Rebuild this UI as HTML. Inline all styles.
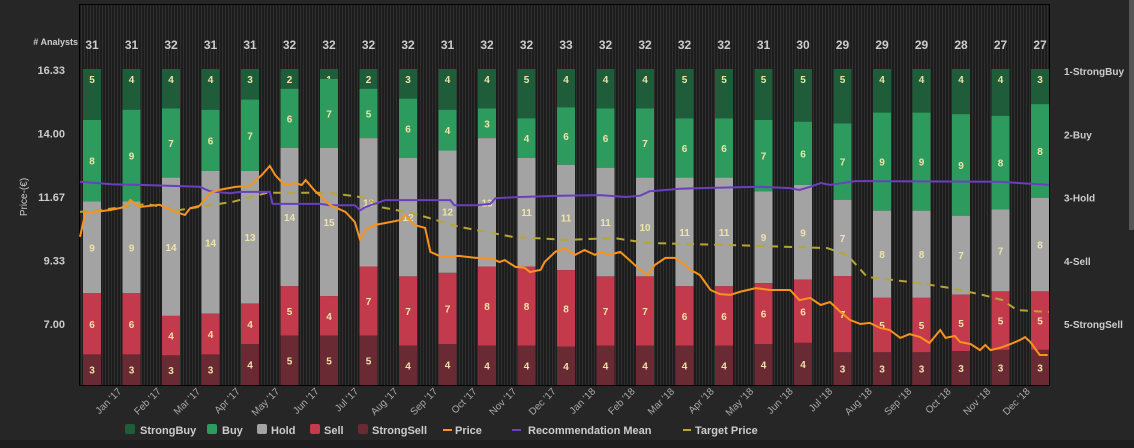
<!DOCTYPE html>
<html><head><meta charset="utf-8"><style>
html,body{margin:0;padding:0;background:#262626;}
svg{display:block;font-family:"Liberation Sans",sans-serif;}
</style></head><body>
<svg id="chart" width="1134" height="448" viewBox="0 0 1134 448">
<defs>
<pattern id="stripes" width="3" height="10" patternUnits="userSpaceOnUse"><rect width="3" height="10" fill="#1d1d1d"/><rect width="1" height="10" fill="#2f2f2f"/></pattern>
</defs>
<rect x="0" y="0" width="1134" height="448" fill="#262626"/>
<rect x="0" y="440" width="1134" height="8" fill="#1e1e1e"/>
<rect x="1129" y="0" width="5" height="230" fill="#555"/>
<rect x="79.5" y="4.5" width="970" height="381" fill="url(#stripes)" stroke="#000"/>
<text x="78" y="45" font-size="9" font-weight="bold" fill="#ccc" text-anchor="end"># Analysts</text>
<text x="27" y="197" font-size="10" fill="#ccc" text-anchor="middle" transform="rotate(-90 27 197)">Price-(€)</text>
<g id="bars"></g><g id="lines"></g><g id="axes"></g>
<g font-size="11" font-weight="bold" fill="#ccc">
<g><rect x="125" y="424" width="10" height="10" rx="2" fill="#1f5c3a"/><text x="140" y="434">StrongBuy</text></g>
<g><rect x="207" y="424" width="10" height="10" rx="2" fill="#2e9b5e"/><text x="222" y="434">Buy</text></g>
<g><rect x="257" y="424" width="10" height="10" rx="2" fill="#a3a3a3"/><text x="271" y="434">Hold</text></g>
<g><rect x="310" y="424" width="10" height="10" rx="2" fill="#c23a4b"/><text x="324" y="434">Sell</text></g>
<g><rect x="358" y="424" width="10" height="10" rx="2" fill="#6a2a33"/><text x="372" y="434">StrongSell</text></g>
<g><rect x="443" y="429" width="9" height="2" fill="#f7931e"/><text x="455" y="434">Price</text></g>
<g><rect x="512" y="429" width="9" height="2" fill="#6a3fc0"/><text x="528" y="434">Recommendation Mean</text></g>
<g><rect x="683" y="429" width="8" height="2" fill="#b8a634"/><text x="695" y="434">Target Price</text></g>
</g>
</svg>
<script>
const months=["Jan '17","Feb '17","Mar '17","Apr '17","May '17","Jun '17","Jul '17","Aug '17","Sep '17","Oct '17","Nov '17","Dec '17","Jan '18","Feb '18","Mar '18","Apr '18","May '18","Jun '18","Jul '18","Aug '18","Sep '18","Oct '18","Nov '18","Dec '18"];
const strongBuy=[5,4,4,4,3,2,1,2,3,4,4,5,4,4,4,5,5,5,5,5,4,4,4,4,3];
const buy=[8,9,7,6,7,6,7,5,6,4,3,4,6,6,7,6,6,7,6,7,9,9,9,8,8];
const hold=[9,9,14,14,13,14,15,13,12,12,13,11,11,11,10,11,11,9,9,7,8,8,7,7,8];
const sell=[6,6,4,4,4,5,4,7,7,7,8,8,8,7,7,6,6,6,6,7,5,5,5,5,5];
const strongSell=[3,3,3,3,4,5,5,5,4,4,4,4,4,4,4,4,4,4,4,3,3,3,3,3,3];
const priceTicks=[16.33,14.00,11.67,9.33,7.00];
const recTicks=["1-StrongBuy","2-Buy","3-Hold","4-Sell","5-StrongSell"];
const priceDays=[0,4,11,23,34,38,45,60,72,79,83,90,98,105,117,128,137,143,147,154,162,167,170,177,182,188,200,207,211,215,222,234,241,245,252,260,264,271,286,298,309,316,320,328,335,339,347,350,358,365,373,380,388,392,399,407,414,422,428,433,441,448,456,460,467,475,482,490,497,509,520,535,542,550,558,565,573,580,588,595,603,610,618,625,633,640,648,652,659,663,671,678,682,686,693,701,708,712,716,723,729];
const priceValues=[10.20,11.08,11.12,11.19,11.30,11.56,11.30,11.38,11.12,11.01,11.26,11.34,11.82,11.93,12.04,12.08,12.48,12.81,12.48,12.11,12.18,12.11,12.29,11.89,11.67,11.38,11.12,10.75,10.09,10.46,10.64,10.75,10.82,11.01,10.64,10.53,9.65,9.50,9.50,9.43,9.43,9.28,9.35,9.10,9.06,8.91,8.99,9.28,9.65,9.79,9.54,9.72,9.54,9.65,9.54,9.65,9.35,8.99,8.80,9.17,9.43,9.43,9.17,8.99,8.80,8.25,8.10,8.07,8.18,8.32,8.25,8.25,7.88,7.96,7.70,7.81,7.44,7.15,7.00,7.04,6.85,6.78,6.49,6.63,6.52,6.30,6.78,6.49,6.56,6.34,6.26,6.04,6.23,6.04,6.12,6.26,6.41,6.52,6.34,5.86,5.86];
const recDays=[0,24,45,90,98,113,121,143,145,181,188,207,211,215,230,241,279,282,298,309,313,331,362,392,411,422,429,452,467,512,535,542,550,558,565,584,595,693,730];
const recValues=[2.75,2.79,2.80,2.83,2.90,2.93,2.91,2.91,3.10,3.10,3.12,3.12,3.20,3.15,3.04,3.04,3.04,3.12,3.12,3.10,3.01,2.99,2.97,2.96,2.99,2.97,2.90,2.86,2.85,2.83,2.85,2.88,2.83,2.77,2.80,2.74,2.74,2.75,2.80];
const targetDays=[0,15,50,75,115,141,188,216,226,250,286,326,367,402,427,512,563,578,593,631,656,680,695,706,730];
const targetValues=[11.12,11.19,11.41,11.19,11.49,11.82,11.82,11.63,11.30,11.08,10.57,10.20,10.09,10.16,9.98,9.87,9.79,9.54,8.73,8.51,8.32,8.07,7.88,7.51,7.44];

const NS="http://www.w3.org/2000/svg";
function el(tag,attrs,parent,text){const e=document.createElementNS(NS,tag);for(const k in attrs)e.setAttribute(k,attrs[k]);if(text!==undefined)e.textContent=text;parent.appendChild(e);return e;}
const xBar=i=>92+i*39.5;
const xDay=d=>80+d*(969/730);
const yPrice=p=>324-(p-7)*(63.4/2.33);
const yRec=r=>71+(r-1)*63.3;
const barTop=69,barH=316,barW=18;
const bars=document.getElementById('bars'),lines=document.getElementById('lines'),axes=document.getElementById('axes');
const segs=[[strongBuy,'#1f5c3a','strongbuy'],[buy,'#2e9b5e','buy'],[hold,'#a3a3a3','hold'],[sell,'#c23a4b','sell'],[strongSell,'#6a2a33','strongsell']];
for(let i=0;i<strongBuy.length;i++){
  const total=segs.reduce((s,g)=>s+g[0][i],0);
  let y=barTop;const cx=xBar(i);
  const t=el('text',{x:cx,y:49,'font-size':12,'font-weight':'bold',fill:'#ccc','text-anchor':'middle'},bars,String(total));
  
  
  for(const g of segs){
    const h=g[0][i]/total*barH;
    const r=el('rect',{x:cx-barW/2,y:y,width:barW,height:h,fill:g[1]},bars);
    
    
    const lb=el('text',{x:cx,y:y+h/2+4,'font-size':10,'font-weight':'bold',fill:'#eee4a8','text-anchor':'middle'},bars,String(g[0][i]));
    if(g[2]==='strongbuy')lb.setAttribute('y',y+14);
    
    
    y+=h;
  }
}
function path(days,vals,yf){return days.map((d,k)=>(k?'L':'M')+xDay(d).toFixed(1)+' '+yf(vals[k]).toFixed(1)).join(' ');}
const tp=el('path',{d:path(targetDays,targetValues,yPrice),fill:'none',stroke:'#b8a634','stroke-width':2,'stroke-dasharray':'8 6'},lines);


const rm=el('path',{d:path(recDays,recValues,yRec),fill:'none',stroke:'#6a3fc0','stroke-width':2},lines);


const pl=el('path',{d:path(priceDays,priceValues,yPrice),fill:'none',stroke:'#f7931e','stroke-width':2},lines);


priceTicks.forEach((p,k)=>{
  const t=el('text',{x:65,y:yPrice(p)+4,'font-size':11,'font-weight':'bold',fill:'#ccc','text-anchor':'end'},axes,p.toFixed(2));
  
  
});
recTicks.forEach((r,k)=>{
  const t=el('text',{x:1064,y:yRec(k+1)+4,'font-size':10,'font-weight':'bold',fill:'#ccc'},axes,r);
  
  
});
months.forEach((m,k)=>{
  const x=122+k*39.5,y=392;
  const t=el('text',{x:x,y:y,'font-size':10,fill:'#aaa','text-anchor':'end',transform:'rotate(-45 '+x+' '+y+')'},axes,m);
  
  
});
</script>
</body></html>
